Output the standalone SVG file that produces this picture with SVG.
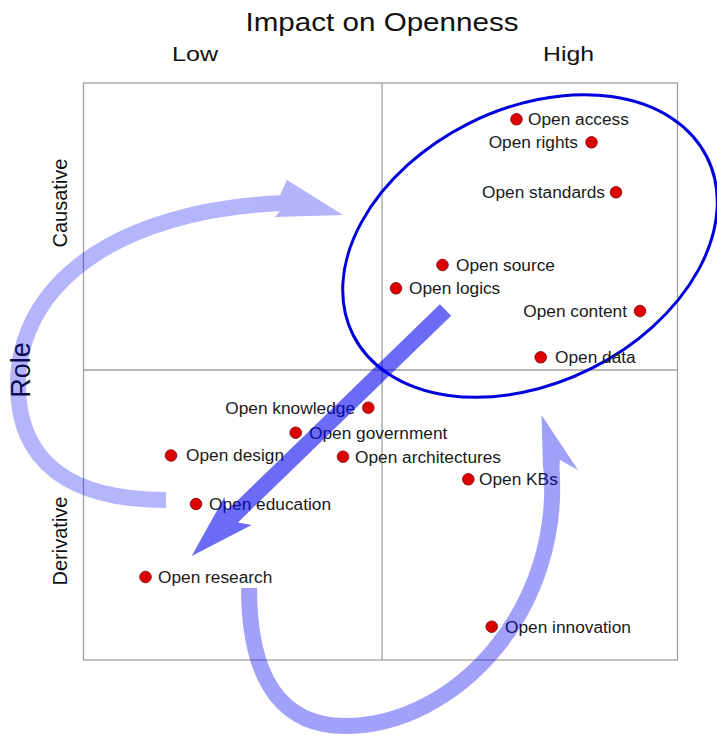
<svg xmlns="http://www.w3.org/2000/svg" width="717" height="736" viewBox="0 0 717 736">
<style>
.grid{fill:none;stroke:#a0a0a0;stroke-width:1.3}
.dot{fill:#dd0000;stroke:#7a0000;stroke-width:0.8}
.lbl{font-family:"Liberation Sans",Arial,sans-serif;font-size:17.3px;fill:#1a1a1a}
.hdr{font-family:"Liberation Sans",Arial,sans-serif;fill:#111}
</style>
<rect width="717" height="736" fill="#ffffff"/>
<g id="grid">
<rect class="grid" x="83.5" y="83" width="594" height="577"/>
<line class="grid" x1="382" y1="83" x2="382" y2="660"/>
<line class="grid" x1="83.5" y1="370" x2="677.5" y2="370"/>
</g>
<g id="headers">
<text class="hdr" x="382" y="31" font-size="26" text-anchor="middle" textLength="273" lengthAdjust="spacingAndGlyphs">Impact on Openness</text>
<text class="hdr" x="172" y="61" font-size="20" textLength="46" lengthAdjust="spacingAndGlyphs">Low</text>
<text class="hdr" x="543" y="61" font-size="20" textLength="51" lengthAdjust="spacingAndGlyphs">High</text>
<text class="hdr" x="67" y="203" font-size="20" text-anchor="middle" transform="rotate(-90 67 203)">Causative</text>
<text class="hdr" x="67" y="541" font-size="20" text-anchor="middle" transform="rotate(-90 67 541)">Derivative</text>
<text class="hdr" x="30" y="370" font-size="27" text-anchor="middle" transform="rotate(-90 30 370)">Role</text>
</g>
<g id="cluster">
<ellipse cx="530" cy="246" rx="198" ry="137" transform="rotate(-26.7 530 246)" fill="none" stroke="#0000dd" stroke-width="3"/>
</g>
<g id="n-access"><circle class="dot" cx="516.5" cy="119.3" r="5.8"/><text class="lbl" x="528" y="125">Open access</text></g>
<g id="n-rights"><circle class="dot" cx="591.5" cy="142.3" r="5.8"/><text class="lbl" x="578" y="148" text-anchor="end">Open rights</text></g>
<g id="n-standards"><circle class="dot" cx="616" cy="192.3" r="5.8"/><text class="lbl" x="605" y="198" text-anchor="end">Open standards</text></g>
<g id="n-source"><circle class="dot" cx="442.5" cy="265" r="5.8"/><text class="lbl" x="456" y="271">Open source</text></g>
<g id="n-logics"><circle class="dot" cx="396" cy="288.3" r="5.8"/><text class="lbl" x="409" y="294">Open logics</text></g>
<g id="n-content"><circle class="dot" cx="640" cy="311" r="5.8"/><text class="lbl" x="627" y="317" text-anchor="end">Open content</text></g>
<g id="n-data"><circle class="dot" cx="540.7" cy="357.3" r="5.8"/><text class="lbl" x="555" y="363">Open data</text></g>
<g id="n-knowledge"><circle class="dot" cx="368.3" cy="407.7" r="5.8"/><text class="lbl" x="355" y="413.5" text-anchor="end">Open knowledge</text></g>
<g id="n-government"><circle class="dot" cx="295.7" cy="432.7" r="5.8"/><text class="lbl" x="309" y="438.5">Open government</text></g>
<g id="n-design"><circle class="dot" cx="171" cy="455.5" r="5.8"/><text class="lbl" x="186" y="461.3">Open design</text></g>
<g id="n-architectures"><circle class="dot" cx="343" cy="456.7" r="5.8"/><text class="lbl" x="355" y="462.5">Open architectures</text></g>
<g id="n-education"><circle class="dot" cx="196" cy="504" r="5.8"/><text class="lbl" x="209" y="509.8">Open education</text></g>
<g id="n-kbs"><circle class="dot" cx="468.3" cy="479.3" r="5.8"/><text class="lbl" x="479" y="485.1">Open KBs</text></g>
<g id="n-research"><circle class="dot" cx="145.5" cy="577" r="5.8"/><text class="lbl" x="158" y="582.8">Open research</text></g>
<g id="n-innovation"><circle class="dot" cx="491.7" cy="626.7" r="5.8"/><text class="lbl" x="505" y="632.5">Open innovation</text></g>
<g id="connectors">
<g id="arrow-cycle-left" opacity="0.29">
<path d="M166,500 C70,500 18,462 18,385 C18,285 115,210 284,203" fill="none" stroke="#0000f0" stroke-width="16"/>
<polygon points="280,195 287,180 343,215 275,217 280,211" fill="#0000f0"/>
</g>
<g id="arrow-cycle-bottom" opacity="0.37">
<path d="M249,588 C249,690 290,726 345,726 C455,726 565,610 551,462" fill="none" stroke="#0000f0" stroke-width="16"/>
<polygon points="543,468 541.5,415 578,470 560,460 559,468" fill="#0000f0"/>
</g>
<g id="arrow-straight" opacity="0.58">
<polygon points="451.1,315.7 237.9,522.4 251.6,525.1 191.7,556 224.4,497.1 226.7,511 439.9,304.3" fill="#0000f0"/>
</g>
</g>
</svg>
